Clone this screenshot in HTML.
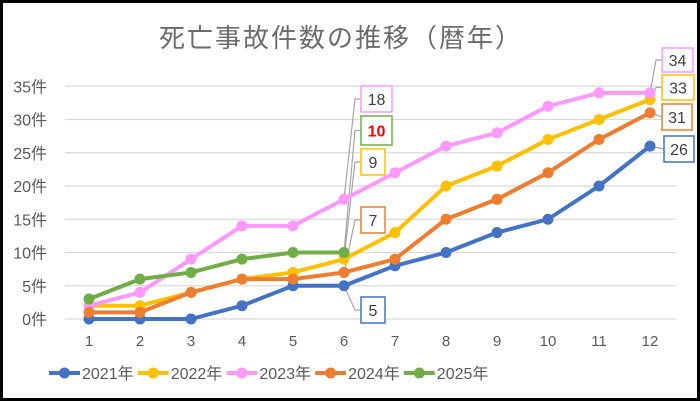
<!DOCTYPE html>
<html><head><meta charset="utf-8"><style>
body{margin:0;background:#fff;}
svg{display:block;font-family:"Liberation Sans","Noto Sans CJK JP",sans-serif;}
</style></head><body>
<svg id="c" width="700" height="402" viewBox="0 0 700 402">
<rect x="1.5" y="1.5" width="697" height="398" fill="#fff" stroke="#000" stroke-width="3"/>
<text x="341" y="47" text-anchor="middle" font-size="26" letter-spacing="2" fill="#6b6b6b">死亡事故件数の推移（暦年）</text>
<g id="grid"></g><g id="ylab"></g><g id="xlab"></g><g id="leaders"></g><g id="series"></g><g id="labels"></g><g id="legend"></g>
</svg>
<script>
const months=[1,2,3,4,5,6,7,8,9,10,11,12];
const yTicks=[0,5,10,15,20,25,30,35];
const seriesNames=["2021年","2022年","2023年","2024年","2025年"];
const seriesColors=["#4472C4","#FFC000","#FF99FF","#ED7D31","#70AD47"];
const s2021=[0,0,0,2,5,5,8,10,13,15,20,26];
const s2022=[2,2,4,6,7,9,13,20,23,27,30,33];
const s2023=[2,4,9,14,14,18,22,26,28,32,34,34];
const s2024=[1,1,4,6,6,7,9,15,18,22,27,31];
const s2025=[3,6,7,9,10,10];
const allSeries=[s2021,s2022,s2023,s2024,s2025];
const NS="http://www.w3.org/2000/svg";
const X=m=>89+(m-1)*51.0;
const Y=v=>319-v*6.65;
function mk(t,a,p){const e=document.createElementNS(NS,t);for(const k in a)e.setAttribute(k,a[k]);p.appendChild(e);return e;}
const grid=document.getElementById('grid'),ylab=document.getElementById('ylab'),xlab=document.getElementById('xlab');
yTicks.forEach(v=>{
 const l=mk('line',{x1:65,x2:676,y1:Y(v),y2:Y(v),stroke:'#d9d9d9','stroke-width':1.3},grid);
 
 
 const t=mk('text',{x:47,y:Y(v)+6,'text-anchor':'end','font-size':16,fill:'#595959'},ylab);
 t.textContent=v+'件';
 
 
});
months.forEach(m=>{
 const t=mk('text',{x:X(m),y:346,'text-anchor':'middle','font-size':15,fill:'#595959'},xlab);
 t.textContent=m;
 
 
});
const sg=document.getElementById('series');
allSeries.forEach((d,i)=>{
 const g=mk('g',{},sg);
 
 
 const pl=mk('polyline',{points:d.map((v,j)=>X(months[j])+','+Y(v)).join(' '),fill:'none',stroke:seriesColors[i],'stroke-width':4,'stroke-linejoin':'round'},g);
 
 
 d.forEach((v,j)=>{
  const c=mk('circle',{cx:X(months[j]),cy:Y(v),r:5.5,fill:seriesColors[i]},g);
  
  
 });
});
const lbls=[[2,5,361,86,31,26],[4,5,361,116,31,29],[1,5,361,149,24,26],[3,5,361,207,24,26],[0,5,361,297,24,26],
[2,11,662,48,31,24],[1,11,662,75,32,25],[3,11,662,104,30,26],[0,11,664,136,30,26]];
const lg=document.getElementById('labels'),ld=document.getElementById('leaders');
lbls.forEach(([si,mi,bx,by,w,h])=>{
 const d=allSeries[si];const v=d[mi];const px=X(months[mi]),py=Y(v);
 const ly=by+h/2;
 const p=mk('polyline',{points:`${px},${py} ${bx-6},${ly} ${bx},${ly}`,fill:'none',stroke:'#a6a6a6','stroke-width':1.2},ld);
 if(si===3&&mi===11)p.setAttribute('points',`${px},${py} ${bx},${ly}`);
 if(si===0&&mi===11)p.setAttribute('points',`${px},${py} ${bx},${ly}`);
 
 
 const r=mk('rect',{x:bx,y:by,width:w,height:h,fill:'#fff',stroke:seriesColors[si],'stroke-width':1.5},lg);
 
 
 const t=mk('text',{x:bx+w/2,y:by+h/2+6,'text-anchor':'middle','font-size':16,fill:si===4?'#FF0000':'#404040','font-weight':si===4?'bold':'normal'},lg);
 t.textContent=v;
 
 
});
const leg=document.getElementById('legend');
seriesNames.forEach((n,i)=>{
 const x0=49+i*88.7;
 const g=mk('g',{},leg);
 
 
 mk('line',{x1:x0,x2:x0+31,y1:373,y2:373,stroke:seriesColors[i],'stroke-width':4},g);
 mk('circle',{cx:x0+15.5,cy:373,r:5.5,fill:seriesColors[i]},g);
 const t=mk('text',{x:x0+33,y:379,'font-size':16,fill:'#595959'},g);
 t.textContent=n;
});
</script>
</body></html>
